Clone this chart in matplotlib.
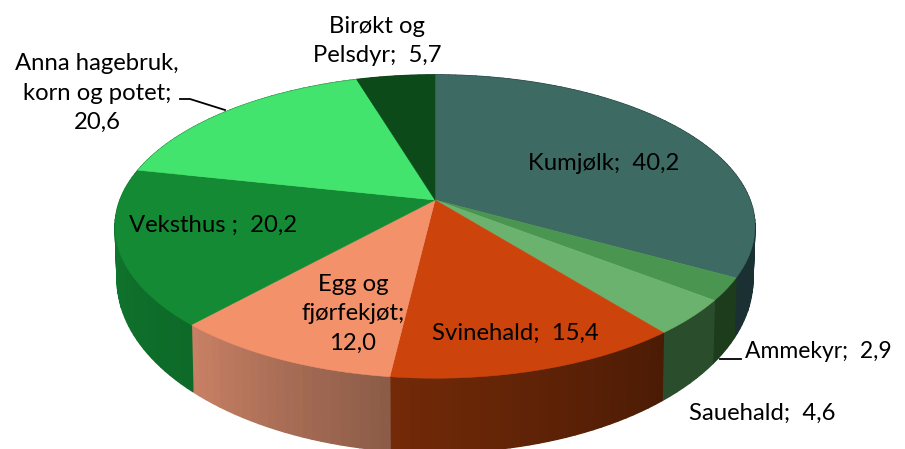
import numpy as np
import matplotlib
matplotlib.use("Agg")
import matplotlib.pyplot as plt
from matplotlib.colors import to_rgb

categories = ["Kumjølk", "Ammekyr", "Sauehald", "Svinehald", "Egg og fjørfekjøt",
              "Veksthus", "Anna hagebruk, korn og potet", "Birøkt og Pelsdyr"]
values = [40.2, 2.9, 4.6, 15.4, 12.0, 20.2, 20.6, 5.7]
top_colors = ["#3d6b63", "#4a9650", "#6ab26e", "#cc440c", "#f2916a", "#138a33", "#42e46e", "#0d4a1a"]
# side wall colours, at the clockwise start and end of each slice
side_start = ["#1a3033", "#1c3c1c", "#2a4d2c", "#4c1b05", "#8c5c48", "#0e6a28", "#0f7a2e", "#0a3a14"]
side_end = ["#1a3033", "#1c3c1c", "#2a4d2c", "#722a08", "#c88064", "#107a30", "#0f6d29", "#0a3a14"]

plt.rcParams["font.family"] = ["Lato", "DejaVu Sans"]
fig = plt.figure(figsize=(9.05, 4.49), dpi=100)
ax = fig.add_axes([0, 0, 1, 1])
ax.set_xlim(0, 905)
ax.set_ylim(449, 0)
ax.axis("off")

CX = 435.0
K = 0.175


def top_rim(theta):
    u, v = np.sin(theta), np.cos(theta)
    w = 1 + K * v
    return CX + 315 * u / w, 200 - 147 * v / w


def bottom_rim(theta):
    u, v = np.sin(theta), np.cos(theta)
    w = 1 + K * v
    return CX + 313 * u / w, 249 - 168 * v / w


edges = np.radians(np.concatenate([[0], np.cumsum(values)]) / np.sum(values) * 360)

# side wall
for i in range(len(values)):
    th = np.linspace(edges[i], edges[i + 1], max(4, int(np.degrees(edges[i + 1] - edges[i]) * 0.7)))
    c0, c1 = np.array(to_rgb(side_start[i])), np.array(to_rgb(side_end[i]))
    for j in range(len(th) - 1):
        t = j / max(1, len(th) - 2)
        col = c0 + (c1 - c0) * t
        x1, y1 = top_rim(th[j:j + 2])
        x2, y2 = bottom_rim(th[j:j + 2])
        ax.fill(np.r_[x1, x2[::-1]], np.r_[y1, y2[::-1]], color=col, lw=1.0, zorder=2)

# top surface
for i in range(len(values)):
    th = np.linspace(edges[i], edges[i + 1], 120)
    x, y = top_rim(th)
    ax.fill(np.r_[CX, x], np.r_[200, y], facecolor=top_colors[i], edgecolor=top_colors[i],
            lw=0.4, zorder=3)

labels = [
    (604, 163, "Kumjølk;  40,2", 17.2),
    (213, 225, "Veksthus ;  20,2", 17.2),
    (353, 314, "Egg og\nfjørfekjøt;\n12,0", 17.2),
    (515, 333, "Svinehald;  15,4", 17.2),
    (377, 41, "Birøkt og\nPelsdyr;  5,7", 17.2),
    (97, 93, "Anna hagebruk,\nkorn og potet;\n20,6", 17.2),
    (818, 352, "Ammekyr;  2,9", 16.5),
    (762, 413, "Sauehald;  4,6", 17.2),
]
for x, y, s, fs in labels:
    ax.text(x, y, s, ha="center", va="center", fontsize=fs, color="black", zorder=5,
            linespacing=1.5)

# leader lines
ax.plot([180, 190, 225], [99, 99, 110], color="black", lw=1.3, zorder=4)
ax.plot([720, 741], [359, 359], color="black", lw=1.3, zorder=4)

fig.savefig("out.png", dpi=100, facecolor="white")
